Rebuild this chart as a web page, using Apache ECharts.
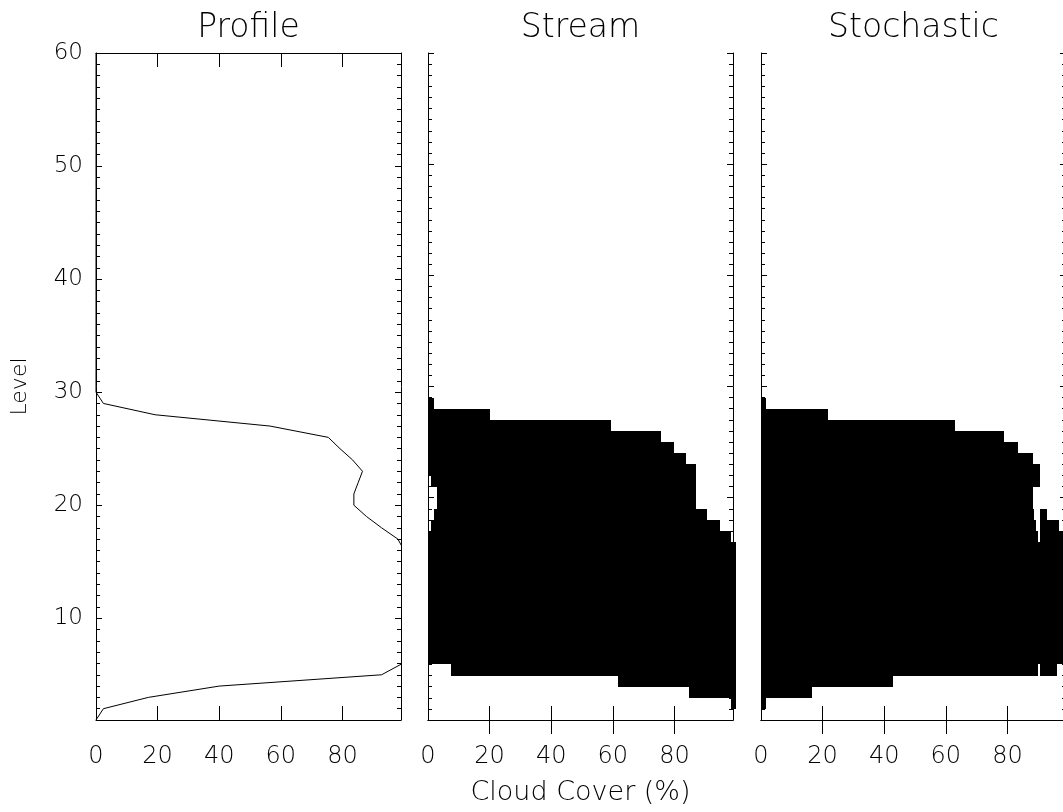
<!DOCTYPE html>
<html><head><meta charset="utf-8">
<script src="https://cdn.jsdelivr.net/npm/echarts@6/dist/echarts.min.js"></script>
<style>html,body{margin:0;padding:0;background:#fff}#c{width:1063px;height:812px}</style>
</head><body><div id="c"></div>
<script>
// ---------------- data ----------------
const panelTitles = ['Profile', 'Stream', 'Stochastic'];
const xTitle = 'Cloud Cover (%)';
const yTitle = 'Level';
const xTickValues = [20, 40, 60, 80];
const xLabelValues = [0, 20, 40, 60, 80];
const profileYLabels = [10, 20, 30, 40, 50, 60];

// model levels 1..60 and the cloud cover profile (%)
const levels = [1,2,3,4,5,6,7,8,9,10,11,12,13,14,15,16,17,18,19,20,21,22,23,24,25,26,27,28,29,30,
  31,32,33,34,35,36,37,38,39,40,41,42,43,44,45,46,47,48,49,50,51,52,53,54,55,56,57,58,59,60];
const profileCover = [0,2.4,17,40,92.7,99.5,100,100,100,100,100,100,100,100,100,100,98,92.7,87.8,83.7,
  83.7,85.1,86.5,83.3,79.2,75.4,56.5,19.2,2.4,0,
  0,0,0,0,0,0,0,0,0,0,0,0,0,0,0,0,0,0,0,0,0,0,0,0,0,0,0,0,0,0];

// cloudy sub-column runs per level: [level, from %, to %]
const streamCells = [
  [29,0,2],[28,0,20],[27,0,59.5],[26,0,75.7],[25,0,79.8],[24,0,83.8],[23,0,87],
  [22,1,87],[21,3,87],[20,3,87],[19,2,90.5],[18,1,94.7],[17,0,98.5],
  [16,0,100],[15,0,100],[14,0,100],[13,0,100],[12,0,100],[11,0,100],[10,0,100],
  [9,0,100],[8,0,100],[7,0,100],[6,0,100],
  [5,7.6,100],[4,61.7,100],[3,84.8,100],[2,98.3,100]
];
const stochasticCells = [
  [29,0,1.6],[28,0,21.6],[27,0,63],[26,0,78.8],[25,0,83.3],[24,0,88.3],[23,0,90.5],
  [22,0,90.5],[21,0,88.3],[20,0,88.3],
  [19,0,88.5],[19,90.5,92.7],[18,0,89.3],[18,90.5,96.8],[17,0,89.8],[17,90.5,100],
  [16,0,100],[15,0,100],[14,0,100],[13,0,100],[12,0,100],[11,0,100],[10,0,100],
  [9,0,100],[8,0,100],[7,0,100],[6,0,100],
  [5,0,89.8],[5,90.5,96.1],[4,0,42.8],[3,0,16.5],[2,0,1.6]
];

// ---------------- chart ----------------
const FONT = 'DejaVu Sans';
const INK = '#000';
const gridLefts = [96, 428, 761];
const yRanges = [[1, 60], [0, 60], [0, 60]];

const grids = gridLefts.map(l => ({left: l, top: 53, width: 305, height: 667, containLabel: false, outerBoundsMode: 'none'}));
const xAxes = [], yAxes = [];
gridLefts.forEach((l, gi) => {
  const base = {gridIndex: gi, type: 'value', min: 0, max: 99, splitLine: {show: false},
    axisLine: {show: true, lineStyle: {color: INK, width: 1}},
    axisTick: {show: true, inside: true, length: 14, customValues: xTickValues, lineStyle: {color: INK, width: 1}}};
  xAxes.push(Object.assign({}, base, {position: 'bottom',
    axisLabel: {show: true, customValues: xLabelValues, margin: 25, fontSize: 24, color: INK, fontFamily: FONT, fontWeight: 'lighter'},
    name: gi === 1 ? xTitle : '', nameLocation: 'middle', nameGap: 59, nameMoveOverlap: false,
    nameTextStyle: {fontSize: 27, color: INK, fontFamily: FONT, fontWeight: 'lighter'}}));
  xAxes.push(Object.assign({}, base, {position: 'top', axisLabel: {show: false},
    name: panelTitles[gi], nameLocation: 'middle', nameGap: 8,
    nameTextStyle: {fontSize: 33, color: INK, fontFamily: FONT, fontWeight: 'lighter'}}));
  const [ymin, ymax] = yRanges[gi];
  ['left', 'right'].forEach(pos => {
    const major = {gridIndex: gi, type: 'value', position: pos, min: ymin, max: ymax, splitLine: {show: false},
      axisLine: {show: true, lineStyle: {color: INK, width: 1}},
      axisTick: {show: true, inside: true, length: 6, lineStyle: {color: INK, width: 1}},
      axisLabel: {show: false}};
    if (gi === 0) {
      major.axisTick.customValues = profileYLabels;
      if (pos === 'left') {
        major.axisLabel = {show: true, customValues: profileYLabels, margin: 13, fontSize: 23, color: INK, fontFamily: FONT, fontWeight: 'lighter'};
        major.name = yTitle; major.nameLocation = 'middle'; major.nameRotate = 90; major.nameGap = 65;
        major.nameTextStyle = {fontSize: 22, color: INK, fontFamily: FONT, fontWeight: 'lighter'};
      }
    } else {
      major.interval = 10;
    }
    yAxes.push(major);
    yAxes.push({gridIndex: gi, type: 'value', position: pos, min: ymin, max: ymax, interval: 1,
      splitLine: {show: false}, axisLine: {show: false}, axisLabel: {show: false},
      axisTick: {show: true, inside: true, length: 4, lineStyle: {color: INK, width: 1}}});
  });
});

function cellRenderer(params, api) {
  const lvl = api.value(0), x0 = api.value(1), x1 = api.value(2);
  const a = api.coord([x0, lvl]);
  const b = api.coord([x1, lvl - 1]);
  const L = Math.round(a[0]), R = Math.round(b[0]), T = Math.round(a[1]), B = Math.round(b[1]);
  return {type: 'rect', shape: {x: L, y: T, width: R - L, height: B - T}, style: {fill: INK}};
}

const option = {
  backgroundColor: '#fff',
  animation: false,
  grid: grids,
  xAxis: xAxes,
  yAxis: yAxes,
  series: [
    {type: 'line', xAxisIndex: 0, yAxisIndex: 0, showSymbol: false, clip: true,
      lineStyle: {color: INK, width: 1}, data: levels.map((lv, i) => [profileCover[i], lv])},
    {type: 'custom', xAxisIndex: 2, yAxisIndex: 4, renderItem: cellRenderer, clip: false,
      encode: {x: [1, 2], y: 0}, data: streamCells},
    {type: 'custom', xAxisIndex: 4, yAxisIndex: 8, renderItem: cellRenderer, clip: false,
      encode: {x: [1, 2], y: 0}, data: stochasticCells}
  ]
};
const chart = echarts.init(document.getElementById('c'), null, {renderer: 'canvas'});
chart.setOption(option);
</script></body></html>
